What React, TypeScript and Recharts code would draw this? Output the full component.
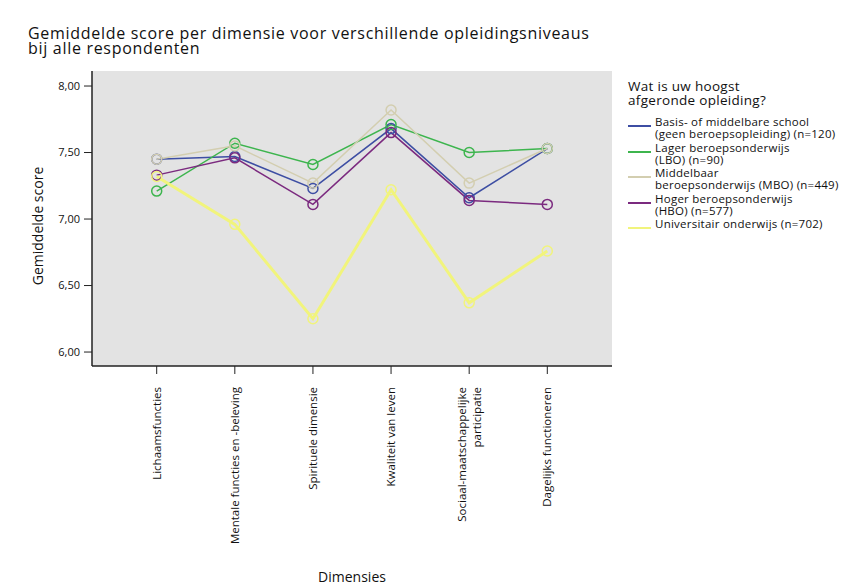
import { LineChart, Line, XAxis, YAxis, CartesianGrid, Legend, Label } from 'recharts';

// dimensions on the x-axis
const dimensies = [
  'Lichaamsfuncties',
  'Mentale functies en -beleving',
  'Spirituele dimensie',
  'Kwaliteit van leven',
  'Sociaal-maatschappelijke|participatie',
  'Dagelijks functioneren',
];

// mean score per education level
const basis = [7.45, 7.47, 7.23, 7.68, 7.16, 7.53];
const lbo = [7.21, 7.57, 7.41, 7.71, 7.5, 7.53];
const mbo = [7.45, 7.55, 7.27, 7.82, 7.27, 7.53];
const hbo = [7.33, 7.46, 7.11, 7.65, 7.14, 7.11];
const universitair = [7.32, 6.96, 6.25, 7.22, 6.37, 6.76];

const yTicks = [6, 6.5, 7, 7.5, 8];

const series = [
  { key: 'basis', values: basis, color: '#3d4ea3', width: 1.5, name: ['Basis- of middelbare school', '(geen beroepsopleiding) (n=120)'] },
  { key: 'lbo', values: lbo, color: '#3db54e', width: 1.5, name: ['Lager beroepsonderwijs', '(LBO) (n=90)'] },
  { key: 'mbo', values: mbo, color: '#d3ceb0', width: 1.5, name: ['Middelbaar', 'beroepsonderwijs (MBO) (n=449)'] },
  { key: 'hbo', values: hbo, color: '#7b2a7f', width: 1.5, name: ['Hoger beroepsonderwijs', '(HBO) (n=577)'] },
  { key: 'universitair', values: universitair, color: '#f1f47c', width: 3, name: ['Universitair onderwijs (n=702)'] },
];

const data = dimensies.map((d, i) => {
  const row: Record<string, string | number> = { dimensie: d };
  series.forEach((s) => {
    row[s.key] = s.values[i];
  });
  return row;
});

const FONT = '"Open Sans", sans-serif';

function DimTick(props: any) {
  const { x, y, payload } = props;
  const lines = String(payload.value).split('|');
  const shift = (lines.length - 1) * 7.5;
  return (
    <g transform={`translate(${x},${y})`}>
      {lines.map((line, i) => (
        <text
          key={i}
          transform='rotate(-90)'
          x={0}
          y={i * 15 - shift}
          dy='0.35em'
          textAnchor='end'
          fontSize={11.5}
          fontFamily={FONT}
          fill='#111'
        >
          {line}
        </text>
      ))}
    </g>
  );
}

function LegendBox() {
  return (
    <div style={{ fontFamily: FONT, color: '#111' }}>
      <div style={{ fontSize: 13.5, lineHeight: '14px', letterSpacing: 0.3, marginBottom: 9 }}>
        Wat is uw hoogst
        <br />
        afgeronde opleiding?
      </div>
      {series.map((s) => (
        <div key={s.key} style={{ display: 'flex', alignItems: 'flex-start', marginBottom: 1 }}>
          <div
            style={{
              width: 23,
              height: 2,
              background: s.color,
              marginTop: 9,
              marginRight: 4,
              flexShrink: 0,
            }}
          />
          <div style={{ fontSize: 11.5, lineHeight: '12.3px', letterSpacing: 0.25, whiteSpace: 'nowrap' }}>
            {s.name.map((n, i) => (
              <div key={i}>{n}</div>
            ))}
          </div>
        </div>
      ))}
    </div>
  );
}

export default function App() {
  return (
    <div style={{ position: 'absolute', left: 0, top: 0, width: 841, height: 586, background: '#fff', overflow: 'hidden' }}>
      <div
        style={{
          position: 'absolute',
          left: 28,
          top: 26,
          fontFamily: FONT,
          fontSize: 16,
          lineHeight: '15px',
          letterSpacing: 0.7,
          color: '#111',
          whiteSpace: 'nowrap',
        }}
      >
        Gemiddelde score per dimensie voor verschillende opleidingsniveaus
        <br />
        bij alle respondenten
      </div>

      <LineChart
        width={841}
        height={586}
        data={data}
        margin={{ top: 71, right: 229, bottom: 20, left: 32 }}
      >
        <CartesianGrid fill='#e3e3e3' horizontal={false} vertical={false} />

        <XAxis
          dataKey='dimensie'
          interval={0}
          padding={{ left: 64.7, right: 64.7 }}
          height={200}
          tickSize={8}
          tickMargin={13}
          tick={<DimTick />}
          axisLine={{ stroke: '#222', strokeWidth: 1.5 }}
          tickLine={{ stroke: '#222' }}
        >
          <Label
            content={() => (
              <text x={352} y={582} textAnchor='middle' fontSize={14} fontFamily={FONT} fill='#111'>
                Dimensies
              </text>
            )}
          />
        </XAxis>
        <XAxis
          xAxisId='top'
          dataKey='dimensie'
          orientation='top'
          height={0}
          tick={false}
          tickLine={false}
          axisLine={{ stroke: '#222', strokeWidth: 1.5 }}
        />

        <YAxis
          domain={[5.895, 8.113]}
          ticks={yTicks}
          width={60}
          tickSize={8}
          tickMargin={4}
          tickFormatter={(v: number) => v.toFixed(2).replace('.', ',')}
          tick={{ fontSize: 11, fontFamily: FONT, fill: '#111' }}
          axisLine={{ stroke: '#222', strokeWidth: 1.5 }}
          tickLine={{ stroke: '#222' }}
          allowDataOverflow
        >
          <Label
            content={() => (
              <text
                x={43}
                y={226}
                transform='rotate(-90, 43, 226)'
                textAnchor='middle'
                fontSize={14}
                fontFamily={FONT}
                fill='#111'
              >
                Gemiddelde score
              </text>
            )}
          />
        </YAxis>
        <YAxis
          yAxisId='right'
          orientation='right'
          width={0}
          tick={false}
          tickLine={false}
          axisLine={{ stroke: '#222', strokeWidth: 1.5 }}
        />

        <Legend
          layout='vertical'
          verticalAlign='middle'
          align='center'
          content={<LegendBox />}
          wrapperStyle={{ position: 'absolute', left: 628, top: 79, width: 213 }}
        />

        {series.map((s) => (
          <Line
            key={s.key}
            type='linear'
            dataKey={s.key}
            stroke={s.color}
            strokeWidth={s.width}
            dot={{ r: 5, fill: 'none', stroke: s.color, strokeWidth: 1.5 }}
            activeDot={false}
            isAnimationActive={false}
          />
        ))}
      </LineChart>
    </div>
  );
}
